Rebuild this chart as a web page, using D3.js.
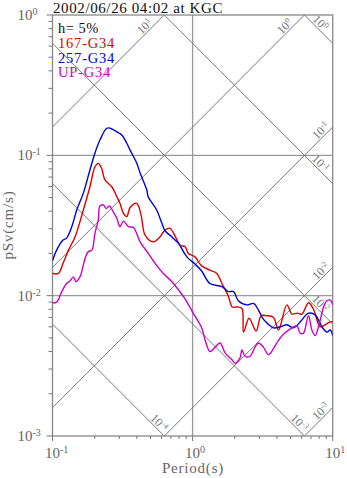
<!DOCTYPE html>
<html><head><meta charset="utf-8">
<script src="https://cdn.jsdelivr.net/npm/d3@7"></script>
<style>body{margin:0;background:#fff}svg{display:block}text{font-family:"Liberation Serif","Times New Roman",serif}</style>
</head><body><svg id="c" width="347" height="478"></svg>
<script>
const titleText = "2002/06/26 04:02 at KGC";
const dampingText = "h= 5%";
const seriesNames = ["167-G34", "257-G34", "UP-G34"];
const seriesColors = ["#dd0000", "#0000dd", "#cc00cc"];

const redT  = [0.1,0.110,0.119,0.130,0.145,0.166,0.185,0.201,0.212,0.224,0.237,0.265,0.288,0.303,0.321,0.339,0.358,0.399,0.429,0.458,0.525,0.586,0.637,0.690,0.75,0.815,0.883,0.933,1.04,1.16,1.33,1.49,1.62,1.80,1.92,2.07,2.25,2.31,2.53,2.84,3.09,3.39,3.78,4.10,4.71,5.11,5.55,6.03,6.72,7.29,8.14,8.84,9.6,10];
const redSv = [0.0144,0.0144,0.0170,0.0211,0.0263,0.0408,0.0597,0.0829,0.0877,0.0808,0.0667,0.0597,0.0507,0.0455,0.0386,0.0366,0.0425,0.0455,0.0375,0.0270,0.0242,0.0263,0.0294,0.0302,0.0266,0.0229,0.0223,0.0200,0.0189,0.0163,0.0152,0.0144,0.0122,0.0099,0.0083,0.0083,0.0081,0.0055,0.0069,0.0056,0.0072,0.0072,0.0070,0.0057,0.0086,0.0074,0.0075,0.0074,0.0089,0.0080,0.0060,0.0062,0.0065,0.0065];

const blueT  = [0.1,0.107,0.119,0.126,0.137,0.149,0.166,0.185,0.201,0.218,0.244,0.258,0.288,0.312,0.339,0.358,0.399,0.422,0.471,0.483,0.554,0.603,0.637,0.71,0.75,0.793,0.91,1.04,1.16,1.33,1.62,1.80,1.96,2.12,2.44,2.72,2.95,3.2,3.39,3.78,4.22,4.71,5.25,5.86,6.72,7.5,8.37,9.1,9.6,10];
const blueSv = [0.0177,0.0211,0.0249,0.0257,0.0308,0.0408,0.0538,0.0786,0.104,0.1285,0.156,0.156,0.147,0.1395,0.122,0.109,0.0881,0.0748,0.0566,0.0504,0.0408,0.0329,0.0289,0.0263,0.0249,0.0236,0.0189,0.0168,0.0150,0.0122,0.0116,0.0107,0.0107,0.0092,0.0086,0.0088,0.0079,0.0068,0.0064,0.0059,0.0060,0.0062,0.0059,0.0065,0.0075,0.0073,0.0060,0.0055,0.0057,0.0052];

const magT  = [0.1,0.107,0.116,0.126,0.133,0.141,0.147,0.157,0.171,0.180,0.191,0.201,0.212,0.218,0.231,0.241,0.255,0.272,0.288,0.303,0.321,0.348,0.378,0.422,0.483,0.540,0.618,0.71,0.793,0.883,1.01,1.16,1.23,1.33,1.45,1.57,1.71,1.91,2.01,2.18,2.25,2.37,2.57,2.79,2.95,3.2,3.48,3.78,4.10,4.45,5.11,5.55,5.86,6.18,6.72,7.10,7.5,7.92,8.37,8.6,9.1,9.6,10];
const magSv = [0.0089,0.0090,0.0106,0.0122,0.0127,0.0136,0.0126,0.0136,0.0185,0.0206,0.0211,0.0279,0.0346,0.0435,0.0443,0.0419,0.0435,0.0394,0.0356,0.0310,0.0340,0.0310,0.0306,0.0242,0.0200,0.0170,0.0144,0.0126,0.0110,0.0095,0.0075,0.0059,0.0048,0.0040,0.0043,0.0046,0.0039,0.0035,0.0033,0.0036,0.0041,0.0037,0.0037,0.0043,0.0046,0.0043,0.0038,0.0042,0.0048,0.0053,0.0059,0.0061,0.0054,0.0054,0.0072,0.0057,0.0052,0.0060,0.0075,0.0083,0.0092,0.0093,0.0086];

const xMajorTicks = [0.1, 1, 10];
const yMajorTicks = [0.001, 0.01, 0.1, 1];
const accelLevels = [10, 1, 0.1, 0.01, 0.001];
const dispLevels = [1, 0.1, 0.01, 0.001, 0.0001];
const xLabel = "Period(s)";
const yLabel = "pSv(cm/s)";

const svg = d3.select("#c");
const L = 52.5, R = 332.7, T = 15, B = 436;
const x = d3.scaleLog().domain([0.1, 10]).range([L, R]);
const y = d3.scaleLog().domain([0.001, 1]).range([B, T]);
const TWO_PI = 2 * Math.PI;

svg.append("defs").append("clipPath").attr("id", "clip")
  .append("rect").attr("x", L).attr("y", T).attr("width", R - L).attr("height", B - T);

const grid = svg.append("g");
[1].forEach(v => grid.append("line").attr("x1", x(v)).attr("x2", x(v)).attr("y1", T).attr("y2", B)
  .attr("stroke", "#999").attr("stroke-width", 1.3));
[0.1, 0.01].forEach(v => grid.append("line").attr("x1", L).attr("x2", R).attr("y1", y(v)).attr("y2", y(v))
  .attr("stroke", "#999").attr("stroke-width", 1.3));

const diag = svg.append("g").attr("clip-path", "url(#clip)");
accelLevels.forEach(a => {
  const sv = t => a * t / TWO_PI;
  diag.append("line").attr("x1", x(0.1)).attr("y1", y(sv(0.1))).attr("x2", x(10)).attr("y2", y(sv(10)))
    .attr("stroke", "#777").attr("stroke-width", 1);
});
dispLevels.forEach(d => {
  const sv = t => TWO_PI * d / t;
  diag.append("line").attr("x1", x(0.1)).attr("y1", y(sv(0.1))).attr("x2", x(10)).attr("y2", y(sv(10)))
    .attr("stroke", "#777").attr("stroke-width", 1);
});

function expLabel(sel, v, baseSize, supSize, supDy) {
  const e = Math.round(Math.log10(v));
  sel.append("tspan").text("10").attr("font-size", baseSize);
  sel.append("tspan").text(String(e)).attr("font-size", supSize).attr("dy", supDy);
}

const s2 = Math.SQRT1_2;
accelLevels.forEach(a => {
  const tTop = TWO_PI / a;
  let ex, ey, along;
  if (tTop <= 10) { ex = x(tTop); ey = y(1); along = 22; }
  else { ex = x(10); ey = y(a * 10 / TWO_PI); along = 11; }
  const cx = ex - along * s2 - 7.5 * s2;
  const cy = ey + along * s2 - 7.5 * s2;
  const t = svg.append("text").attr("transform", `translate(${cx},${cy}) rotate(-45)`)
    .attr("text-anchor", "middle").attr("dy", "0.35em").attr("fill", "#777");
  expLabel(t, a, 12, 8, -4);
});
dispLevels.forEach(d => {
  const svR = TWO_PI * d / 10;
  let ex, ey, along;
  if (svR >= 0.001) { ex = x(10); ey = y(svR); along = 23; }
  else { ex = x(TWO_PI * d / 0.001); ey = y(0.001); along = 13; }
  const cx = ex - along * s2 + 7.5 * s2;
  const cy = ey - along * s2 - 7.5 * s2;
  const t = svg.append("text").attr("transform", `translate(${cx},${cy}) rotate(45)`)
    .attr("text-anchor", "middle").attr("dy", "0.35em").attr("fill", "#777");
  expLabel(t, d, 12, 8, -4);
});

svg.append("rect").attr("x", L).attr("y", T).attr("width", R - L).attr("height", B - T)
  .attr("fill", "none").attr("stroke", "#888").attr("stroke-width", 1.3);

const ax = svg.append("g").attr("stroke", "#777").attr("stroke-width", 1);
const minorY = [];
for (let e = -3; e < 0; e++) for (let k = 2; k <= 9; k++) minorY.push(k * Math.pow(10, e));
const minorX = [];
for (let e = -1; e < 1; e++) for (let k = 2; k <= 9; k++) minorX.push(k * Math.pow(10, e));
yMajorTicks.forEach(v => ax.append("line").attr("x1", L - 6).attr("x2", L).attr("y1", y(v)).attr("y2", y(v)));
minorY.forEach(v => ax.append("line").attr("x1", L - 4).attr("x2", L).attr("y1", y(v)).attr("y2", y(v)));
xMajorTicks.forEach(v => ax.append("line").attr("x1", x(v)).attr("x2", x(v)).attr("y1", B).attr("y2", B + 5));
minorX.forEach(v => ax.append("line").attr("x1", x(v)).attr("x2", x(v)).attr("y1", B).attr("y2", B + 3));

yMajorTicks.forEach(v => {
  const t = svg.append("text").attr("x", 17.5).attr("y", y(v) + 5).attr("fill", "#666");
  expLabel(t, v, 15, 10, -5);
});
xMajorTicks.forEach(v => {
  const t = svg.append("text").attr("x", x(v) - 7.5).attr("y", 458).attr("fill", "#666");
  expLabel(t, v, 15, 10, -5);
});

svg.append("text").attr("x", 193).attr("y", 473).attr("text-anchor", "middle")
  .attr("font-size", 15).attr("letter-spacing", 0.8).attr("fill", "#666").text(xLabel);
svg.append("text").attr("transform", "translate(13,225) rotate(-90)").attr("text-anchor", "middle")
  .attr("font-size", 15).attr("letter-spacing", 0.8).attr("fill", "#666").text(yLabel);

const series = [
  {T: redT, S: redSv}, {T: blueT, S: blueSv}, {T: magT, S: magSv}
];
const line = d3.line().x(d => x(d[0])).y(d => y(d[1])).curve(d3.curveCatmullRom.alpha(0.5));
const sg = svg.append("g").attr("clip-path", "url(#clip)");
series.forEach((s, i) => {
  const pts = s.T.map((t, j) => [t, s.S[j]]);
  sg.append("path").attr("d", line(pts)).attr("fill", "none")
    .attr("stroke", seriesColors[i]).attr("stroke-width", 1.4).attr("stroke-linejoin", "round");
});

svg.append("text").attr("x", 53).attr("y", 12.5).attr("font-size", 15).attr("letter-spacing", 0.6)
  .attr("fill", "#111").text(titleText);
svg.append("text").attr("x", 58).attr("y", 33).attr("font-size", 14.5).attr("letter-spacing", 0.5)
  .attr("fill", "#111").text(dampingText);
seriesNames.forEach((n, i) => {
  svg.append("text").attr("x", 58).attr("y", 48.3 + i * 14.3).attr("font-size", 14.5)
    .attr("letter-spacing", 0.8).attr("fill", seriesColors[i]).text(n);
});
</script></body></html>
